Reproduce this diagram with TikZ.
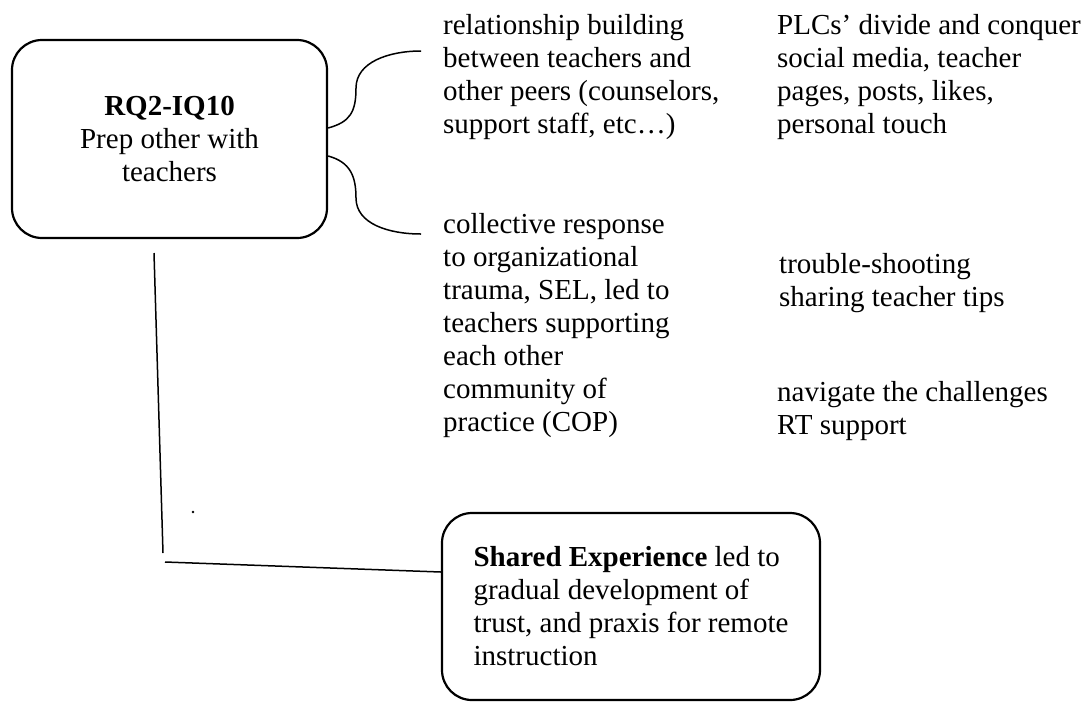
\documentclass[tikz,border=0pt]{standalone}
\usepackage{fontspec}
\setmainfont{Liberation Serif}
\usetikzlibrary{positioning}

\newcommand{\diagfont}{\fontsize{29}{33}\selectfont}

\begin{document}
\begin{tikzpicture}[x=1pt, y=-1pt,
    box/.style={draw, line width=2.2pt, rounded corners=30pt, align=center, inner sep=0pt, font=\diagfont},
    note/.style={inner sep=0pt, align=left, anchor=north west, font=\diagfont},
    link/.style={line width=1.5pt}]
    \useasboundingbox (0,0) rectangle (1089,705);

    % Question box
    \node[box, minimum width=315pt, minimum height=198pt] (rq) at (169.5,139)
        {\textbf{RQ2-IQ10}\\Prep other with\\teachers};

    % Notes
    \node[note] (rel) at (443,14) {relationship building\\between teachers and\\other peers (counselors,\\support staff, etc…)};
    \node[note] (coll) at (443,213) {collective response\\to organizational\\trauma, SEL, led to\\teachers supporting\\each other\\community of\\practice (COP)};
    \node[note] (plc) at (777,14) {PLCs’ divide and conquer\\social media, teacher\\pages, posts, likes,\\personal touch};
    \node[note] (trb) at (779,253) {trouble-shooting\\sharing teacher tips};
    \node[note] (nav) at (777,381) {navigate the challenges\\RT support};

    % Shared experience box
    \node[box, align=left, minimum width=378pt, minimum height=187pt] (shared) at (631,606.5)
        {\textbf{Shared Experience} led to\\gradual development of\\trust, and praxis for remote\\instruction};

    % Brace
    \coordinate (relTip) at (421,51);
    \coordinate (collTip) at (421,234);
    \draw[link] ([yshift=11pt]rq.east) .. controls +(22,-6) and +(0,24) .. (356,88)
        .. controls +(0,-26) and +(-32,0) .. (relTip);
    \draw[link] ([yshift=-17pt]rq.east) .. controls +(22,6) and +(0,-22) .. (356,198)
        .. controls +(0,26) and +(-32,0) .. (collTip);

    % Lines down to the shared box
    \coordinate (vTop) at (154,253);
    \coordinate (vBot) at (163,553);
    \coordinate (hStart) at (165,562);
    \draw[link] (vTop) -- (vBot);
    \draw[link] (hStart) -- (shared.west |- 0,572);
    \fill (193,512) circle (1.3pt);
\end{tikzpicture}
\end{document}
